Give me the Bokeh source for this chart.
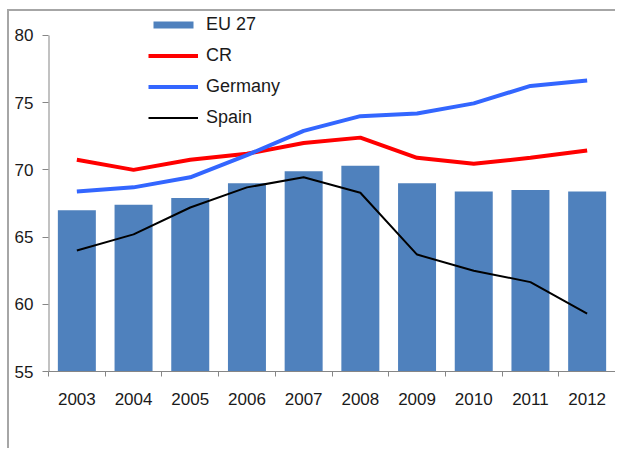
from bokeh.plotting import figure
from bokeh.models import Range1d, FixedTicker, Legend, LegendItem
from bokeh.embed import file_html
from bokeh.resources import INLINE

years = ["2003", "2004", "2005", "2006", "2007", "2008", "2009", "2010", "2011", "2012"]
eu27 = [67.0, 67.4, 67.9, 69.0, 69.9, 70.3, 69.0, 68.4, 68.5, 68.4]
cr = [70.75, 70.0, 70.75, 71.2, 72.0, 72.4, 70.9, 70.45, 70.9, 71.45]
germany = [68.4, 68.7, 69.45, 71.1, 72.9, 74.0, 74.2, 74.95, 76.25, 76.65]
spain = [64.0, 65.2, 67.2, 68.7, 69.45, 68.3, 63.7, 62.5, 61.65, 59.3]
y_ticks = [55, 60, 65, 70, 75, 80]

xc = [i + 0.5 for i in range(len(years))]

p = figure(output_backend="svg", toolbar_location=None,
           x_range=Range1d(0, len(years)), y_range=Range1d(55, 81.71),
           frame_width=567, frame_height=359,
           min_border_left=39, min_border_top=1, min_border_right=0, min_border_bottom=77)
p.styles = {"border-top": "2px solid #a6a6a6", "border-left": "2px solid #a6a6a6",
            "margin-top": "9px", "margin-left": "7px"}
p.outline_line_color = None
p.xgrid.visible = False
p.ygrid.visible = False
p.background_fill_color = "white"
p.border_fill_color = "white"

bars = p.vbar(x=xc, top=eu27, bottom=y_ticks[0], width=0.67, fill_color="#4f81bd", line_color=None)
l_cr = p.line(xc, cr, line_color="#ff0000", line_width=4)
l_de = p.line(xc, germany, line_color="#3366ff", line_width=4)
l_es = p.line(xc, spain, line_color="#000000", line_width=2)
p.segment(x0=[0], y0=[y_ticks[0]], x1=[0], y1=[y_ticks[-1]], line_color="#868686", line_width=2)

# axes
ya = p.yaxis[0]
ya.ticker = FixedTicker(ticks=y_ticks, minor_ticks=[])
ya.axis_line_color = None
ya.major_tick_line_color = "#868686"
ya.major_tick_out = 6
ya.major_tick_in = 0
ya.minor_tick_line_color = None
ya.major_label_standoff = 9
ya.major_label_text_font = "Liberation Sans"
ya.major_label_text_font_size = "17px"
ya.major_label_text_color = "#1a1a1a"

xa = p.xaxis[0]
xa.ticker = FixedTicker(ticks=xc, minor_ticks=list(range(len(years) + 1)))
xa.major_label_overrides = {x: y for x, y in zip(xc, years)}
xa.axis_line_color = "#868686"
xa.major_tick_line_color = None
xa.major_tick_out = 0
xa.major_tick_in = 0
xa.minor_tick_line_color = "#868686"
xa.minor_tick_out = 5
xa.minor_tick_in = 0
xa.major_label_standoff = 16
xa.major_label_text_font = "Liberation Sans"
xa.major_label_text_font_size = "17px"
xa.major_label_text_color = "#1a1a1a"

legend = Legend(items=[
    LegendItem(label="EU 27", renderers=[bars]),
    LegendItem(label="CR", renderers=[l_cr]),
    LegendItem(label="Germany", renderers=[l_de]),
    LegendItem(label="Spain", renderers=[l_es]),
], location=(100, 243))
legend.glyph_width = 50
legend.glyph_height = 9
legend.label_height = 20
legend.spacing = 10
legend.padding = 0
legend.margin = 0
legend.label_standoff = 8
legend.border_line_color = None
legend.background_fill_alpha = 0
legend.label_text_font = "Liberation Sans"
legend.label_text_font_size = "18px"
legend.label_text_color = "#1a1a1a"
p.add_layout(legend, "center")

open("out.html", "w").write(file_html(p, INLINE))
